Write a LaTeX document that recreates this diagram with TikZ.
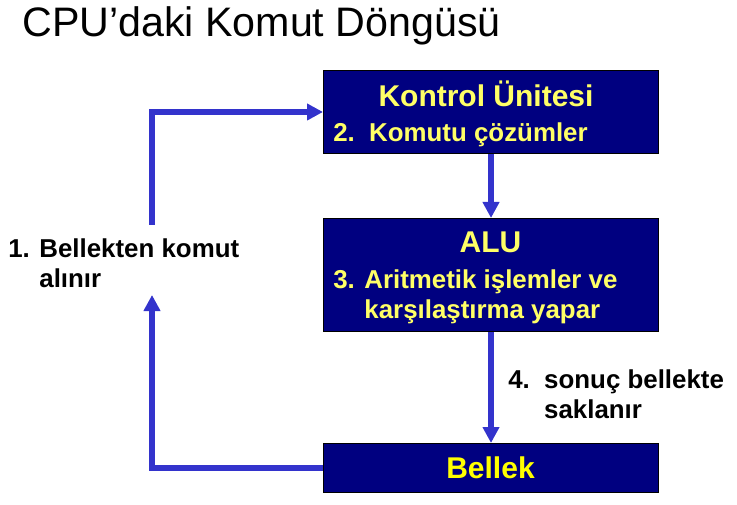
\documentclass[tikz,border=0pt]{standalone}
\usepackage{fontspec}
\setmainfont{Liberation Sans}
\usetikzlibrary{positioning,arrows.meta}
\definecolor{cyclenavy}{RGB}{0,0,128}
\definecolor{cycleblue}{RGB}{51,51,204}
\definecolor{cyclepale}{RGB}{255,255,102}
\definecolor{cycleyellow}{RGB}{255,255,0}
\tikzset{
    cyclebox/.style={draw=black, line width=0.75pt, fill=cyclenavy, anchor=north west, minimum width=251.25pt, inner sep=0pt},
    cyclehead/.style={font=\bfseries\fontsize{22.5}{27}\selectfont, text=cyclepale, anchor=base, inner sep=0pt},
    cycletext/.style={font=\bfseries\fontsize{19.4}{22.5}\selectfont, align=left, anchor=base west, inner sep=0pt},
    cyclearrow/.style={draw=cycleblue, line width=4.1pt, -{Triangle[length=12pt,width=12pt]}},
    cycleline/.style={draw=cycleblue, line width=4.1pt}
}

\begin{document}
\begin{tikzpicture}[x=0.75pt, y=-0.75pt]
    \useasboundingbox (0,0) rectangle (737,505);
    \node[anchor=base west, inner sep=0pt, font=\fontsize{30.9}{36}\selectfont] (title) at (22,37) {CPU’daki Komut Döngüsü};

    \node[cyclebox, minimum height=62.25pt] (kontrol) at (323,70) {};
    \node[cyclebox, minimum height=84.75pt] (alu) at (323,218) {};
    \node[cyclebox, minimum height=36.75pt] (bellek) at (323,443) {};

    \node[cyclehead] (kontrolname) at (486,107) {Kontrol Ünitesi};
    \node[cycletext, text=cyclepale] (kontrolstep) at (333,142) {2.\ \ Komutu çözümler};
    \node[cyclehead] (aluname) at (490.5,253) {ALU};
    \node[cycletext, text=cyclepale] (alustep) at (333,319) {3. Aritmetik işlemler ve\\\phantom{3. }karşılaştırma yapar};
    \node[cyclehead, text=cycleyellow] (bellekname) at (490.5,478) {Bellek};

    \node[cycletext] (fetch) at (8,288) {1. Bellekten komut\\\phantom{1. }alınır};
    \node[cycletext] (store) at (508,418) {4.\ \ sonuç bellekte\\\phantom{4.\ \ }saklanır};

    \coordinate (loopend) at (152,295);
    \coordinate (loopstart) at (152,225);

    \draw[cyclearrow] (kontrol) -- (alu);
    \draw[cyclearrow] (alu) -- (bellek);
    \draw[cyclearrow] (bellek.west) -| (loopend);
    \draw[cyclearrow] (loopstart) |- (kontrol.west);
\end{tikzpicture}
\end{document}
